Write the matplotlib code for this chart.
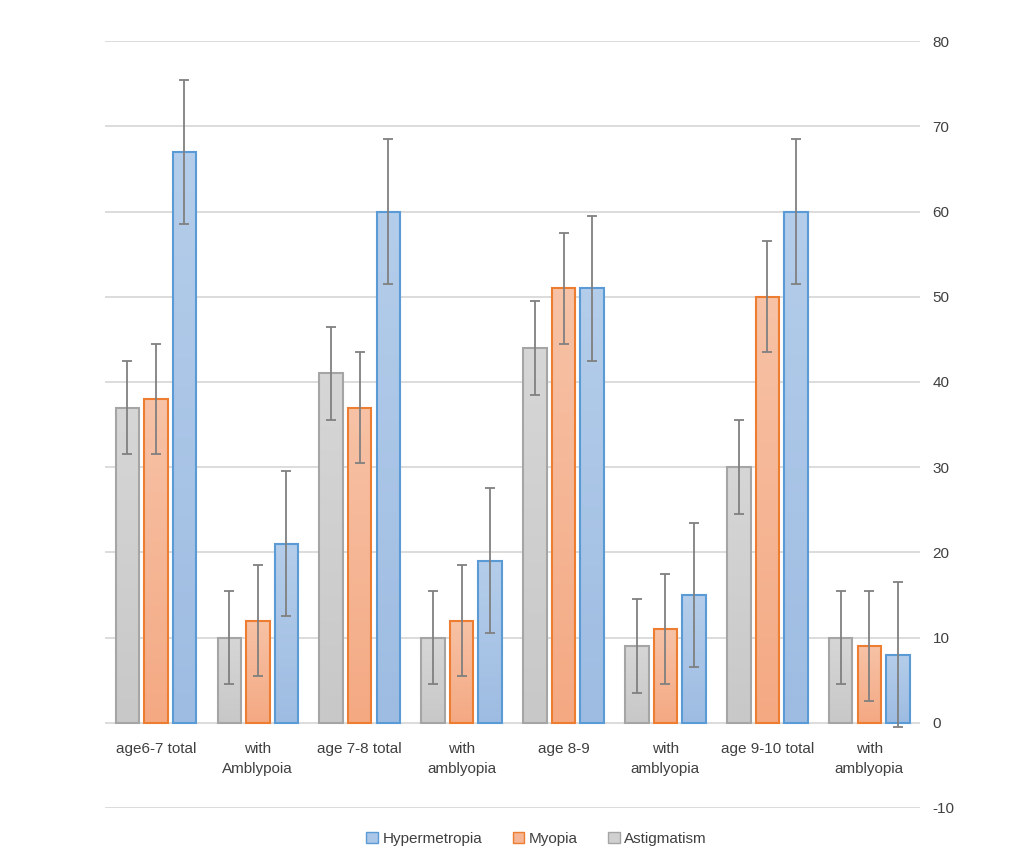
import numpy as np
import matplotlib
matplotlib.use("Agg")
import matplotlib.pyplot as plt
from matplotlib.colors import LinearSegmentedColormap
from matplotlib.patches import Patch

categories = ["age6-7 total", "with\nAmblypoia", "age 7-8 total", "with\namblyopia",
              "age 8-9", "with\namblyopia", "age 9-10 total", "with\namblyopia"]
astigmatism = [37, 10, 41, 10, 44, 9, 30, 10]
myopia = [38, 12, 37, 12, 51, 11, 50, 9]
hypermetropia = [67, 21, 60, 19, 51, 15, 60, 8]
err_astig = [5.5] * 8
err_myopia = [6.5] * 8
err_hyper = [8.5] * 8

plt.rcParams['font.family'] = ['Liberation Sans', 'DejaVu Sans']
plt.rcParams['axes.unicode_minus'] = False

fig = plt.figure(figsize=(10.09, 8.58), dpi=100)
ax = fig.add_axes([0.104, 0.0583, 0.808, 0.8937])

x = np.arange(len(categories))
w = 0.23
off = 0.28

series = [
    (astigmatism, err_astig, -off, "#a5a5a5", ("#d6d6d6", "#c8c8c8"), "Astigmatism"),
    (myopia, err_myopia, 0, "#ed7d31", ("#f7c2a6", "#f4a983"), "Myopia"),
    (hypermetropia, err_hyper, off, "#5b9bd5", ("#b4cdea", "#9ebce2"), "Hypermetropia"),
]

for vals, errs, dx, edge, (top, bot), name in series:
    cmap = LinearSegmentedColormap.from_list(name, [bot, top])
    bars = ax.bar(x + dx, vals, width=w, facecolor="none", edgecolor=edge,
                  linewidth=1.5, zorder=3)
    for b in bars:
        bx, by = b.get_x(), b.get_y()
        bw, bh = b.get_width(), b.get_height()
        grad = np.linspace(0, 1, 100).reshape(-1, 1)
        im = ax.imshow(grad, extent=[bx, bx + bw, by, by + bh], origin="lower",
                       aspect="auto", cmap=cmap, zorder=2)
        im.set_clip_path(b)
    ax.errorbar(x + dx, vals, yerr=errs, fmt="none", ecolor="#808080",
                elinewidth=1.3, capsize=3.5, capthick=1.3, zorder=4)

ax.set_xlim(-0.5, len(categories) - 0.5)
ax.set_ylim(-10, 80)
ax.set_yticks(np.arange(-10, 81, 10))
ax.yaxis.tick_right()
ax.tick_params(axis="y", length=0, pad=9, labelsize=11, labelcolor="#404040")
ax.set_xticks([])
ax.grid(axis="y", color="#d9d9d9", linewidth=1.3, zorder=0)
ax.set_axisbelow(True)
for s in ax.spines.values():
    s.set_visible(False)

for i, lab in enumerate(categories):
    ax.annotate(lab, xy=(i, 0), xytext=(0, -13.5), textcoords="offset points",
                ha="center", va="top", fontsize=11, color="#404040",
                linespacing=1.55, annotation_clip=False)

handles = [Patch(facecolor="#aac6e8", edgecolor="#5b9bd5", label="Hypermetropia"),
           Patch(facecolor="#f6b594", edgecolor="#ed7d31", label="Myopia"),
           Patch(facecolor="#d0d0d0", edgecolor="#a5a5a5", label="Astigmatism")]
leg = fig.legend(handles=handles, loc="center", bbox_to_anchor=(0.532, 0.022), ncol=3,
                 frameon=False, fontsize=11, handlelength=0.75, handleheight=0.75,
                 handletextpad=0.3, columnspacing=2.0)
for t in leg.get_texts():
    t.set_color("#404040")

fig.savefig("out.png", dpi=100)
